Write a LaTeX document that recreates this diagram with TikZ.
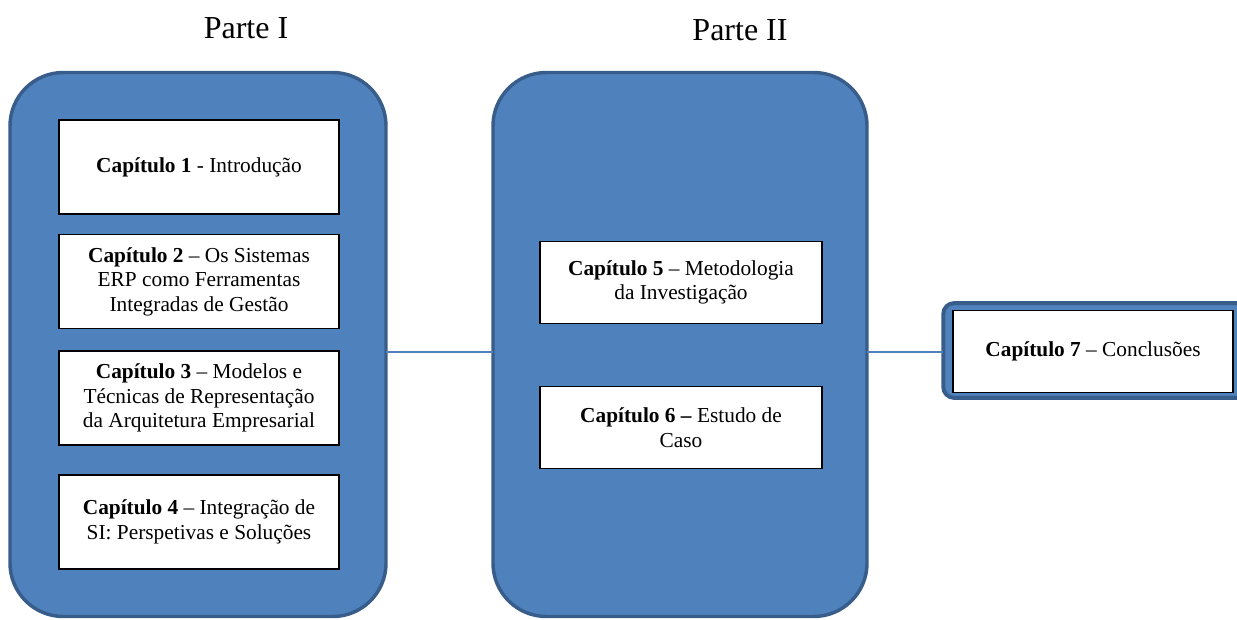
\documentclass[tikz,border=0pt]{standalone}
\usepackage{fontspec}
\setmainfont{Liberation Serif}
\definecolor{panelfill}{HTML}{4F81BD}
\definecolor{paneledge}{HTML}{385D8A}
\begin{document}
\begin{tikzpicture}[x=0.75pt,y=-0.75pt,
  panel/.style={draw=paneledge,fill=panelfill,line width=2.6pt,rounded corners=40pt,inner sep=0pt,outer sep=0pt},
  smallpanel/.style={draw=paneledge,fill=panelfill,line width=3pt,rounded corners=8pt,inner sep=0pt,outer sep=0pt},
  chapter/.style={draw=black,fill=white,line width=0.8pt,inner sep=2pt,outer sep=0pt,align=center,
    font=\fontsize{16}{18.4}\selectfont},
  title/.style={font=\fontsize{24}{28}\selectfont},
  link/.style={draw=panelfill,line width=1.5pt}]
\useasboundingbox (0,0) rectangle (1237,619);
\clip (0,0) rectangle (1237,619);

% part titles
\node[title] (t1) at (246,28) {Parte I};
\node[title] (t2) at (740,30) {Parte II};

% large panels
\node[panel,minimum width=282pt,minimum height=408pt] (p1) at (198,344.5) {};
\node[panel,minimum width=280.5pt,minimum height=408pt] (p2) at (680,344.5) {};
% panel for the conclusions, running past the right edge
\node[smallpanel,minimum width=232pt,minimum height=71pt] (p3) at (1098,350.5) {};

% connectors between panels
\draw[link] ([yshift=-5.6pt]p1.east) -- ([yshift=-5.6pt]p2.west);
\draw[link] ([yshift=-5.6pt]p2.east) -- ([yshift=-1.1pt]p3.west);

% chapters of part I
\node[chapter,minimum width=210pt,minimum height=70.5pt] (c1) at (199,167)
  {\textbf{Capítulo 1} - Introdução};
\node[chapter,minimum width=210pt,minimum height=70pt] (c2) at (199,281.5)
  {\textbf{Capítulo 2} – Os Sistemas\\ERP como Ferramentas\\Integradas de Gestão};
\node[chapter,minimum width=210pt,minimum height=70.5pt] (c3) at (199,398)
  {\textbf{Capítulo 3} – Modelos e\\Técnicas de Representação\\da Arquitetura Empresarial};
\node[chapter,minimum width=210pt,minimum height=70.5pt] (c4) at (199,522)
  {\textbf{Capítulo 4} – Integração de\\SI: Perspetivas e Soluções};

% chapters of part II
\node[chapter,minimum width=211.5pt,minimum height=61pt] (c5) at (681,282.5)
  {\textbf{Capítulo 5} – Metodologia\\da Investigação};
\node[chapter,minimum width=211.5pt,minimum height=61pt] (c6) at (681,427.5)
  {\textbf{Capítulo 6 –} Estudo de\\Caso};

% conclusions
\node[chapter,minimum width=210pt,minimum height=61pt] (c7) at (1093,351.5)
  {\textbf{Capítulo 7} – Conclusões};
\end{tikzpicture}
\end{document}
